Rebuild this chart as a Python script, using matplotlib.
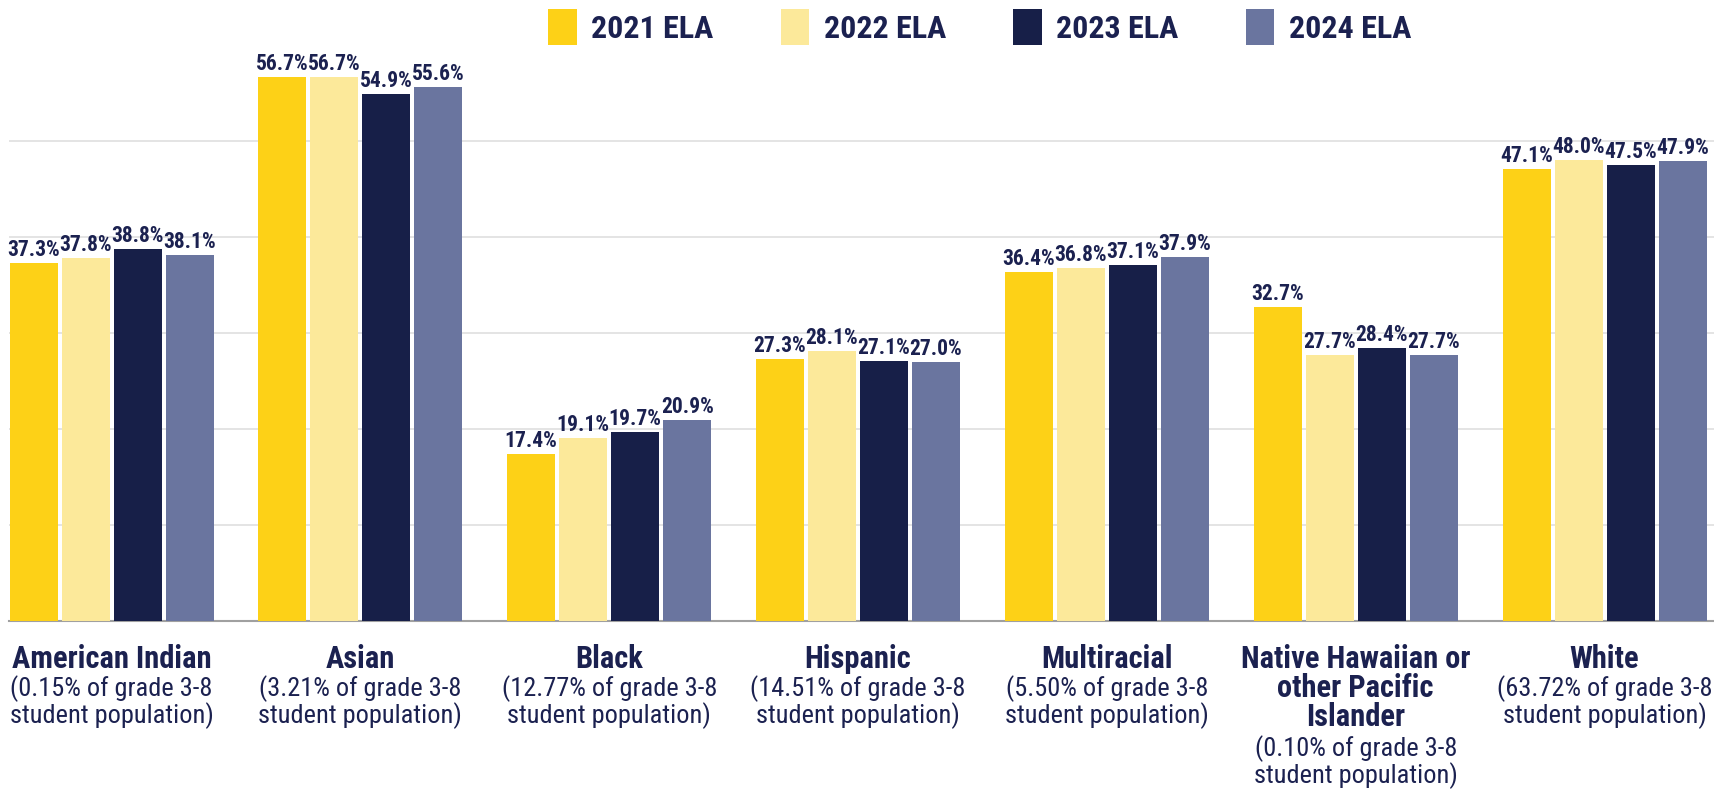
import matplotlib.pyplot as plt
import numpy as np

plt.rcParams['font.family'] = ['Roboto Condensed', 'DejaVu Sans Condensed',
                               'Liberation Sans Narrow', 'Roboto', 'DejaVu Sans']

# data
categories = ['American Indian', 'Asian', 'Black', 'Hispanic', 'Multiracial',
              'Native Hawaiian or\nother Pacific\nIslander', 'White']
shares = ['(0.15% of grade 3-8\nstudent population)',
          '(3.21% of grade 3-8\nstudent population)',
          '(12.77% of grade 3-8\nstudent population)',
          '(14.51% of grade 3-8\nstudent population)',
          '(5.50% of grade 3-8\nstudent population)',
          '(0.10% of grade 3-8\nstudent population)',
          '(63.72% of grade 3-8\nstudent population)']
series_names = ['2021 ELA', '2022 ELA', '2023 ELA', '2024 ELA']
ela_2021 = [37.3, 56.7, 17.4, 27.3, 36.4, 32.7, 47.1]
ela_2022 = [37.8, 56.7, 19.1, 28.1, 36.8, 27.7, 48.0]
ela_2023 = [38.8, 54.9, 19.7, 27.1, 37.1, 28.4, 47.5]
ela_2024 = [38.1, 55.6, 20.9, 27.0, 37.9, 27.7, 47.9]

colors = ['#FDD117', '#FCE99A', '#171F48', '#6A759F']
navy = '#1B2150'

fig = plt.figure(figsize=(17.15, 7.90), dpi=100)
ax = fig.add_axes([0.0051, 0.2139, 0.9949, 0.729])

x = np.arange(len(categories))
pitch = 0.209
width = 0.193
for k, vals in enumerate([ela_2021, ela_2022, ela_2023, ela_2024]):
    pos = x + (k - 1.5) * pitch
    bars = ax.bar(pos, vals, width=width, color=colors[k], label=series_names[k], zorder=3)
    for b, v in zip(bars, vals):
        ax.annotate('%.1f%%' % v, (b.get_x() + b.get_width() / 2, v),
                    xytext=(0, 1.5), textcoords='offset points',
                    ha='center', va='bottom', fontsize=15.5, fontweight='bold',
                    color=navy, zorder=4)

ax.set_xlim(-0.4134, 6.444)
ax.set_ylim(0, 60)
ax.set_yticks([10, 20, 30, 40, 50])
ax.yaxis.grid(True, color='#E2E2E2', lw=1.3, zorder=0)
ax.set_xticks([])
ax.tick_params(left=False, labelleft=False)
for s in ['top', 'right', 'left']:
    ax.spines[s].set_visible(False)
ax.spines['bottom'].set_color('#A0A0A0')
ax.spines['bottom'].set_linewidth(1.5)

# category labels under the axis
for i, (cat, sh) in enumerate(zip(categories, shares)):
    nl = cat.count('\n') + 1
    ax.annotate(cat, (i, 0), xytext=(0, -16.5), textcoords='offset points',
                ha='center', va='top', fontsize=22, fontweight='bold',
                color=navy, linespacing=0.95, annotation_clip=False)
    ax.annotate(sh, (i, 0), xytext=(0, -16.5 - 21.5 * nl - 1), textcoords='offset points',
                ha='center', va='top', fontsize=19, color=navy,
                linespacing=1.0, annotation_clip=False)

leg = ax.legend(loc='upper center', bbox_to_anchor=(0.569, 1.112), ncol=4,
                frameon=False, handlelength=0.9, handleheight=1.35,
                handletextpad=0.45, columnspacing=2.1,
                prop={'size': 23, 'weight': 'bold'})
for t in leg.get_texts():
    t.set_color(navy)

fig.savefig('out.png', dpi=100)
